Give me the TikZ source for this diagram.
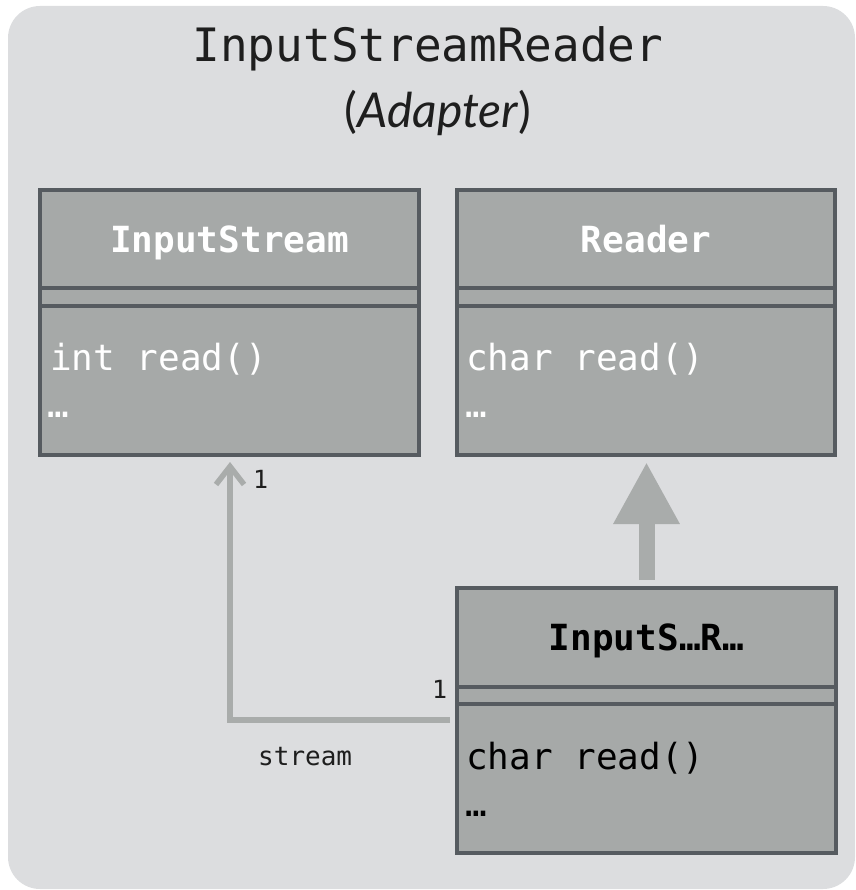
\documentclass[tikz,border=0pt]{standalone}
\usepackage{fontspec}
\setmonofont{DejaVu Sans Mono}
\newfontfamily\latofont{Lato}
\usetikzlibrary{arrows.meta}

\definecolor{canvas}{HTML}{DCDDDF}
\definecolor{boxfill}{HTML}{A6A9A8}
\definecolor{boxline}{HTML}{565B60}
\definecolor{linkgray}{HTML}{A9ACAB}
\definecolor{ink}{HTML}{1E1E1E}

\begin{document}
\begin{tikzpicture}[x=1pt,y=-1pt,
  classbox/.style={draw=boxline, fill=boxfill, line width=4pt, inner sep=0pt,
    outer sep=0pt, minimum width=379pt, minimum height=265pt},
  sepline/.style={draw=boxline, line width=4pt},
  classname/.style={anchor=base, inner sep=0pt, font=\ttfamily\bfseries\fontsize{36}{40}\selectfont},
  member/.style={anchor=base west, inner sep=0pt, font=\ttfamily\fontsize{36}{40}\selectfont},
  multlabel/.style={anchor=base west, inner sep=0pt, text=ink, font=\ttfamily\fontsize{25}{30}\selectfont},
  inherit/.style={draw=linkgray, line width=16pt,
    -{Triangle[length=62pt 0 0, width=62pt 0 0]}},
  assoc/.style={draw=linkgray, line width=5.5pt,
    -{Straight Barb[length=18pt 0 0, width=28pt 0 0]}}
]
\useasboundingbox (0,0) rectangle (855,890);

% canvas
\fill[canvas, rounded corners=32pt] (8,6) rectangle (855,889);

% heading
\node[anchor=base, inner sep=0pt, text=ink, font=\ttfamily\fontsize{46}{52}\selectfont]
  (title) at (428,62) {InputStreamReader};
\node[anchor=base, inner sep=0pt, text=ink, font=\latofont\fontsize{48}{54}\selectfont]
  (pattern) at (438,128) {(\textit{Adapter})};

% classes
\node[classbox] (is) at (229.5,322.5) {};
\node[classbox, minimum width=378pt] (rd) at (646,322.5) {};
\node[classbox] (isr) at (646.5,720.5) {};

\foreach \b/\ya/\yb in {is/288/306, rd/288/306, isr/687/704} {
  \draw[sepline] (\b.west |- 0,\ya) -- (\b.east |- 0,\ya);
  \draw[sepline] (\b.west |- 0,\yb) -- (\b.east |- 0,\yb);
}

% class names
\node[classname, text=white] (isname) at (229.5,253) {InputStream};
\node[classname, text=white] (rdname) at (646,253) {Reader};
\node[classname, text=black] (isrname) at (646.5,650) {InputS…R…};

% members
\node[member, text=white] (ism1) at (50,370) {int read()};
\node[member, text=white] (ism2) at (47,417) {…};
\node[member, text=white] (rdm1) at (466,370) {char read()};
\node[member, text=white] (rdm2) at (465,417) {…};
\node[member, text=black] (isrm1) at (466,769) {char read()};
\node[member, text=black] (isrm2) at (465,816) {…};

% generalisation
\draw[inherit, shorten <=8pt, shorten >=7pt] (isr.north) -- (isr.north |- rd.south);

% association
\coordinate (bend) at (230,720);
\draw[assoc, shorten <=7pt, shorten >=7pt] (isr.west |- bend) -- (bend) -- (bend |- is.south);

% association labels
\node[multlabel] (m1) at (253,488) {1};
\node[multlabel] (m2) at (432,698) {1};
\node[multlabel, font=\ttfamily\fontsize{26}{30}\selectfont] (role) at (258,765) {stream};
\end{tikzpicture}
\end{document}
